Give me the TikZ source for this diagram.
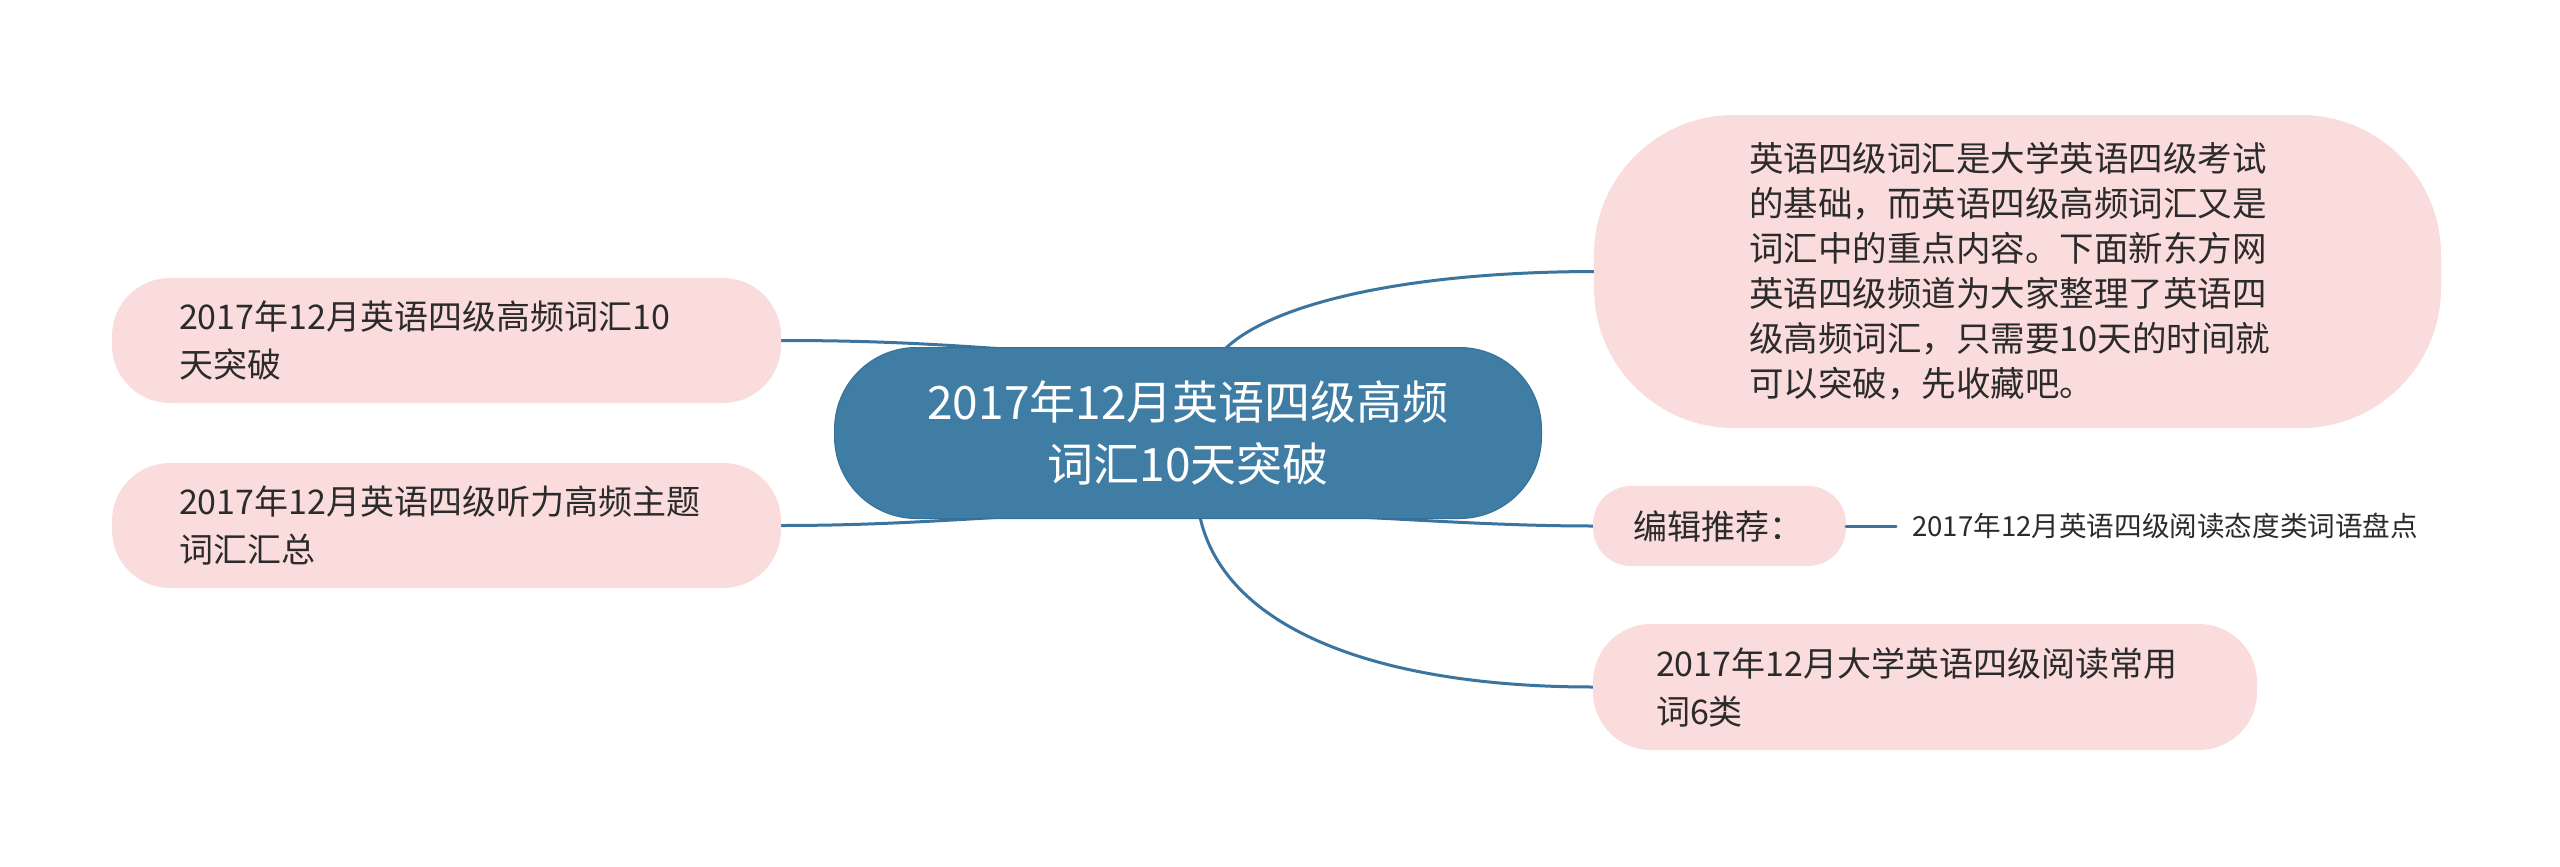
\documentclass[tikz,border=0pt]{standalone}
\usepackage{fontspec}
\setmainfont{Noto Sans CJK SC}
\usetikzlibrary{calc}
\pgfdeclarelayer{background}
\pgfsetlayers{background,main}
\definecolor{cblue}{HTML}{3F7DA5}
\definecolor{cborder}{HTML}{36709A}
\definecolor{lineblue}{HTML}{3B749F}
\definecolor{tpink}{HTML}{FBDCDC}
\definecolor{tdark}{HTML}{2B2B2B}
\tikzset{
  central/.style={draw=cborder, line width=1pt, fill=cblue, rounded corners=82pt,
    text=white, align=center, font=\fontsize{46}{62}\selectfont,
    minimum width=707pt, minimum height=171pt, inner sep=0pt},
  topic/.style={fill=tpink, align=left, text=tdark, inner ysep=0pt,
    font=\fontsize{34}{48}\selectfont},
  leaftext/.style={text=tdark, inner xsep=16pt, inner ysep=0pt, anchor=west,
    font=\fontsize{27.6}{34}\selectfont},
  conn/.style={draw=lineblue, line width=3pt, line cap=round}
}
\begin{document}
\begin{tikzpicture}[x=1pt,y=-1pt]
\useasboundingbox (0,0) rectangle (2560,867);

\node[central] (c) at (1188,433) {2017年12月英语四级高频\\词汇10天突破};

\node[topic, rounded corners=58pt, minimum height=125pt, inner xsep=67pt, text width=535pt]
  (lt) at (446.5,340.5) {2017年12月英语四级高频词汇10\\天突破};
\node[topic, rounded corners=58pt, minimum height=125pt, inner xsep=67pt, text width=535pt]
  (lb) at (446.5,525.5) {2017年12月英语四级听力高频主题\\词汇汇总};
\node[topic, rounded corners=140pt, minimum height=313pt, inner xsep=155pt, text width=537pt,
  font=\fontsize{34.5}{45}\selectfont]
  (big) at (2017.5,271.5) {英语四级词汇是大学英语四级考试\\的基础，而英语四级高频词汇又是\\词汇中的重点内容。下面新东方网\\英语四级频道为大家整理了英语四\\级高频词汇，只需要10天的时间就\\可以突破，先收藏吧。};
\node[topic, rounded corners=38pt, minimum height=80pt, inner xsep=40pt, text width=173pt]
  (ed) at (1719.5,526) {编辑推荐：};
\node[leaftext] (leaf) at (1896,526) {2017年12月英语四级阅读态度类词语盘点};
\node[topic, rounded corners=58pt, minimum height=126pt, inner xsep=63pt, text width=538pt]
  (br) at (1925,687) {2017年12月大学英语四级阅读常用\\词6类};

\begin{pgfonlayer}{background}
\fill[white] (0,0) rectangle (2560,867);
\draw[conn] ($(c.north west)+(170,2)$) .. controls (920,343) and (860,340.5) .. (lt.east);
\draw[conn] ($(c.south west)+(170,-2)$) .. controls (920,522) and (860,525.5) .. (lb.east);
\draw[conn] ($(c.north west)+(391,2)$) .. controls (1270,305) and (1400,272) .. (big.west);
\draw[conn] ($(c.south west)+(525,-2)$) .. controls (1450,522) and (1520,526) .. (ed.west);
\draw[conn] ($(c.south west)+(366,-2)$) .. controls (1225,630) and (1380,687) .. (br.west);
\end{pgfonlayer}
\draw[conn] (ed.east) -- (leaf.west);
\end{tikzpicture}
\end{document}
